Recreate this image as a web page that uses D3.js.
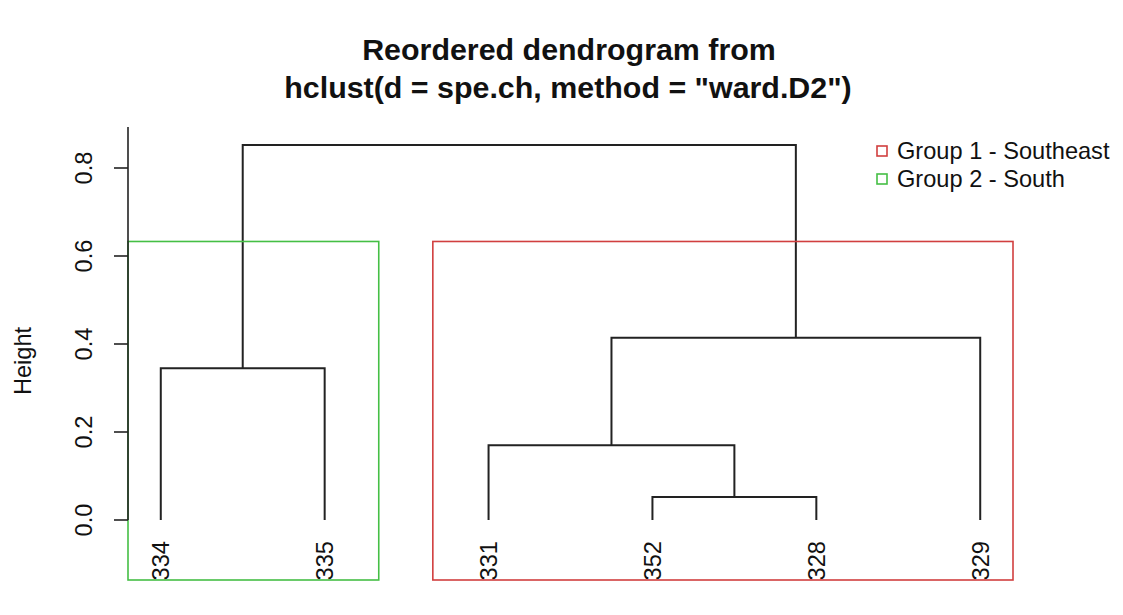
<!DOCTYPE html>
<html>
<head>
<meta charset="utf-8">
<script src="https://cdn.jsdelivr.net/npm/d3@7"></script>
<style>
  body { margin: 0; background: #fff; }
  text { font-family: "Liberation Sans", Arial, sans-serif; fill: #111; }
</style>
</head>
<body>
<div id="chart"></div>
<script>
// leaves in plotted order, and merges as [left, right, height]
var leaves = ['334', '335', '331', '352', '328', '329'];
var merges = [
  ['352', '328', 0.052],
  ['331', 'm0', 0.170],
  ['334', '335', 0.345],
  ['m1', '329', 0.414],
  ['m2', 'm3', 0.852]
];
var groups = ['Group 1 - Southeast', 'Group 2 - South'];
var groupColors = ['#d13f3f', '#45bf45'];
// which leaves fall in each boxed cluster
var groupLeaves = [['331', '352', '328', '329'], ['334', '335']];
var yTicks = [0, 0.2, 0.4, 0.6, 0.8];

var width = 1123, height = 615;
var plot = { left: 128, right: 1013, top: 127, bottom: 580 };
var fs = 23.6;

var svg = d3.select('#chart').append('svg')
  .attr('width', width).attr('height', height);

// R style usr: 4% padding around leaf index 1..n
var x = d3.scaleLinear()
  .domain([0.8, leaves.length + 0.2])
  .range([plot.left, plot.right]);
var y = d3.scaleLinear().domain([0, 0.8]).range([520, 168]);

var nodes = {};
leaves.forEach(function(l, i) { nodes[l] = { x: x(i + 1), h: 0 }; });

var g = svg.append('g');
merges.forEach(function(m, i) {
  var a = nodes[m[0]], b = nodes[m[1]], h = m[2];
  g.append('path')
    .attr('d', 'M' + a.x + ',' + y(a.h) + 'V' + y(h) + 'H' + b.x + 'V' + y(b.h))
    .attr('fill', 'none').attr('stroke', '#222').attr('stroke-width', 2);
  nodes['m' + i] = { x: (a.x + b.x) / 2, h: h };
});

// leaf labels, clipped to the plot region like R does
svg.append('clipPath').attr('id', 'clip')
  .append('rect').attr('x', 0).attr('y', 0).attr('width', width).attr('height', plot.bottom + 1);

svg.append('g').attr('clip-path', 'url(#clip)')
  .selectAll('text').data(leaves).enter().append('text')
  .attr('transform', function(d) { return 'translate(' + (nodes[d].x + 8.5) + ',541) rotate(-90)'; })
  .attr('text-anchor', 'end')
  .attr('font-size', fs)
  .text(function(d) { return d; });

// cluster boxes (rect.hclust)
var cut = (merges[3][2] + merges[4][2]) / 2;
groupLeaves.forEach(function(ls, k) {
  var i0 = leaves.indexOf(ls[0]) + 1, i1 = leaves.indexOf(ls[ls.length - 1]) + 1;
  var x0 = Math.max(x(i0 - 0.34), plot.left), x1 = Math.min(x(i1 + 0.33), plot.right);
  svg.append('rect')
    .attr('x', x0).attr('y', y(cut))
    .attr('width', x1 - x0).attr('height', plot.bottom - y(cut))
    .attr('fill', 'none').attr('stroke', groupColors[k]).attr('stroke-width', 1.6);
});

// y axis
var ax = svg.append('g');
ax.append('line')
  .attr('x1', plot.left).attr('x2', plot.left)
  .attr('y1', y(0)).attr('y2', plot.top)
  .attr('stroke', '#222').attr('stroke-width', 1.6);
ax.selectAll('.tick').data(yTicks).enter().append('line')
  .attr('x1', plot.left - 14).attr('x2', plot.left)
  .attr('y1', function(d) { return y(d); }).attr('y2', function(d) { return y(d); })
  .attr('stroke', '#222').attr('stroke-width', 1.6);
ax.selectAll('.lab').data(yTicks).enter().append('text')
  .attr('transform', function(d) { return 'translate(92,' + y(d) + ') rotate(-90)'; })
  .attr('text-anchor', 'middle')
  .attr('font-size', fs)
  .text(function(d) { return d3.format('.1f')(d); });

svg.append('text')
  .attr('transform', 'translate(31,361) rotate(-90)')
  .attr('text-anchor', 'middle').attr('font-size', fs)
  .text('Height');

// title
svg.append('text').attr('x', 569).attr('y', 60)
  .attr('text-anchor', 'middle').attr('font-size', 30.4).attr('font-weight', 'bold')
  .text('Reordered dendrogram from');
svg.append('text').attr('x', 568).attr('y', 98)
  .attr('text-anchor', 'middle').attr('font-size', 30.4).attr('font-weight', 'bold')
  .text('hclust(d = spe.ch, method = "ward.D2")');

// legend
var lg = svg.append('g').selectAll('g').data(groups).enter().append('g')
  .attr('transform', function(d, i) { return 'translate(877,' + (151 + i * 28) + ')'; });
lg.append('rect').attr('x', 0).attr('y', -5).attr('width', 10).attr('height', 10)
  .attr('fill', 'none').attr('stroke', function(d, i) { return groupColors[i]; }).attr('stroke-width', 1.6);
lg.append('text').attr('x', 20).attr('y', 8).attr('font-size', fs)
  .text(function(d) { return d; });
</script>
</body>
</html>
